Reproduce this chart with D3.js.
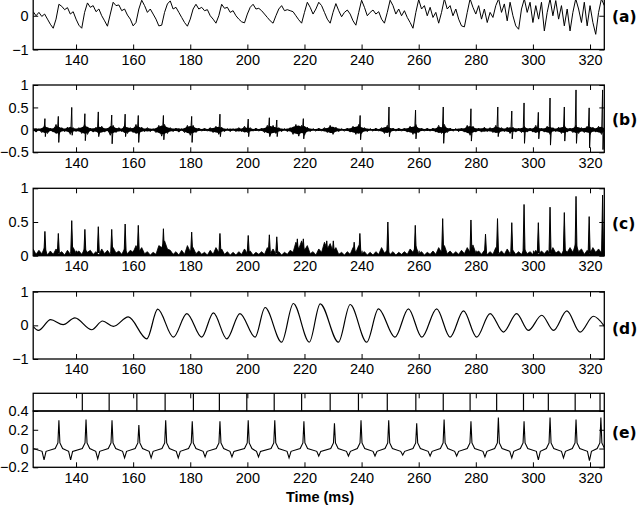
<!DOCTYPE html>
<html>
<head>
<meta charset="utf-8">
<script src="https://cdn.jsdelivr.net/npm/d3@7"></script>
<style>
  html, body { margin: 0; padding: 0; background: #fff; }
  svg { display: block; }
  .tick text { font-family: "Liberation Sans", Arial, sans-serif; font-size: 14.5px; fill: #000; }
</style>
</head>
<body>
<svg id="chart" width="640" height="506"></svg>
<script>
// ---------------- DATA ----------------
const timeDomain = [125, 325];
const xTickValues = [140, 160, 180, 200, 220, 240, 260, 280, 300, 320];

// (a) raw signal, one value per ms from 125 to 325
const aStart = 125;
const aValues = [
  0.12, 0.0, 0.1, -0.02, 0.05, -0.1, -0.25, -0.37, -0.1, 0.34,
  0.28, 0.18, 0.24, 0.05, 0.12, -0.1, -0.28, -0.37, 0.1, 0.38,
  0.25, 0.3, 0.12, 0.2, 0.0, -0.15, -0.31, 0.05, 0.4, 0.3,
  0.32, 0.15, 0.2, 0.02, -0.1, -0.3, -0.2, 0.2, 0.46, 0.3,
  0.1, 0.2, 0.05, -0.1, -0.3, -0.28, 0.1, 0.35, 0.44, 0.2,
  0.25, 0.1, -0.05, -0.2, -0.31, -0.1, 0.2, 0.34, 0.2, 0.25,
  0.15, 0.18, 0.0, -0.1, -0.22, 0.0, 0.34, 0.22, 0.25, 0.1,
  0.15, 0.0, -0.1, -0.18, -0.21, 0.05, 0.25, 0.34, 0.2, 0.22,
  0.15, 0.05, -0.05, -0.15, -0.22, 0.0, 0.2, 0.3, 0.15, 0.18,
  0.15, 0.12, 0.0, -0.12, -0.22, 0.1, 0.4, 0.25, 0.05, 0.2,
  0.4, 0.3, 0.1, -0.1, -0.22, 0.1, 0.36, 0.15, -0.03, 0.1,
  0.17, 0.05, -0.15, -0.28, 0.1, 0.46, 0.25, 0.0, 0.1, 0.17,
  0.05, 0.12, -0.1, -0.22, 0.1, 0.46, 0.3, 0.05, 0.2, 0.0,
  0.15, -0.05, -0.2, -0.37, 0.1, 0.48, 0.2, 0.3, 0.0, 0.25,
  -0.05, 0.1, -0.22, 0.1, 0.5, 0.2, 0.3, 0.0, 0.2, -0.1,
  -0.3, -0.33, 0.1, 0.5, 0.25, 0.05, 0.3, -0.1, 0.2, -0.2,
  0.1, -0.05, 0.3, 0.5, 0.1, 0.35, -0.15, 0.4, 0.0, -0.3,
  -0.4, 0.2, 0.5, 0.1, 0.4, -0.2, 0.3, -0.1, 0.4, -0.45,
  0.1, 0.5, 0.0, 0.45, -0.1, 0.3, -0.3, 0.2, -0.45, 0.1,
  0.5, 0.2, -0.2, 0.4, -0.3, 0.3, -0.2, -0.55, 0.1, 0.5, 0.3
];

// (b) background noise, one value per ms from 125 to 325, plus spikes
const bStart = 125;
const bNoise = [
  0.04, -0.05, 0.03, -0.06, 0.1, -0.08, 0.04, -0.05, 0.12, -0.1,
  0.05, -0.04, 0.06, -0.1, 0.05, -0.04, 0.05, -0.08, 0.12, -0.1,
  0.04, -0.05, 0.06, -0.1, 0.08, -0.05, 0.04, -0.12, 0.1, -0.06,
  0.05, -0.04, 0.1, -0.08, 0.05, -0.06, 0.12, -0.1, 0.06, -0.04,
  0.05, -0.04, 0.03, -0.06, 0.1, -0.14, 0.12, -0.08, 0.05, -0.04,
  0.04, -0.05, 0.03, -0.06, 0.1, -0.12, 0.1, -0.06, 0.04, -0.03,
  0.04, -0.03, 0.05, -0.06, 0.08, -0.1, 0.06, -0.04, 0.03, -0.04,
  0.03, -0.04, 0.05, -0.04, 0.08, -0.06, 0.05, -0.03, 0.04, -0.03,
  0.04, -0.06, 0.1, -0.12, 0.1, -0.08, 0.05, -0.04, 0.03, -0.04,
  0.05, -0.1, 0.12, -0.14, 0.1, -0.12, 0.06, -0.04, 0.03, -0.03,
  0.04, -0.03, 0.05, -0.06, 0.1, -0.1, 0.06, -0.04, 0.03, -0.03,
  0.04, -0.05, 0.08, -0.1, 0.12, -0.08, 0.05, -0.04, 0.03, -0.03,
  0.04, -0.03, 0.05, -0.08, 0.1, -0.06, 0.04, -0.03, 0.04, -0.03,
  0.04, -0.05, 0.08, -0.1, 0.12, -0.06, 0.04, -0.03, 0.04, -0.03,
  0.04, -0.05, 0.1, -0.08, 0.12, -0.06, 0.04, -0.03, 0.03, -0.04,
  0.04, -0.05, 0.1, -0.12, 0.08, -0.05, 0.04, -0.05, 0.06, -0.04,
  0.05, -0.06, 0.1, -0.08, 0.05, -0.04, 0.06, -0.08, 0.06, -0.05,
  0.04, -0.06, 0.08, -0.05, 0.04, -0.05, 0.1, -0.06, 0.04, -0.05,
  0.08, -0.1, 0.05, -0.04, 0.06, -0.08, 0.1, -0.05, 0.04, -0.06,
  0.1, -0.08, 0.05, -0.06, 0.08, -0.1, 0.06, -0.05, 0.08, -0.1, 0.05
];
const bSpikeT  = [129.1, 133.8, 138.5, 143.1, 147.8, 152.5, 157.2, 161.8, 170.6, 180.5, 190.4, 200.3, 207.7, 210.3, 219.6,
                  239.5, 249.6, 258.9, 268.6, 278.3, 287.7, 292.6, 296.9, 301.9, 306.0, 311.0, 315.1, 319.7, 324.4];
const bSpikeHi = [0.25, 0.30, 0.50, 0.36, 0.40, 0.33, 0.35, 0.32, 0.32, 0.30, 0.35, 0.24, 0.27, 0.22, 0.25,
                  0.32, 0.51, 0.44, 0.51, 0.47, 0.51, 0.42, 0.60, 0.39, 0.71, 0.51, 0.89, 0.49, 0.89];
const bSpikeLo = [-0.15, -0.28, -0.12, -0.24, -0.15, -0.31, -0.15, -0.28, -0.22, -0.28, -0.15, -0.15, -0.15, -0.15, -0.2,
                  -0.22, -0.15, -0.2, -0.3, -0.25, -0.15, -0.2, -0.3, -0.2, -0.34, -0.25, -0.3, -0.4, -0.44];

// (c) rectified background, one value per ms from 125 to 325, plus spikes
const cStart = 125;
const cNoise = [
  0.1, 0.02, 0.08, 0.03, 0.12, 0.01, 0.07, 0.02, 0.1, 0.03,
  0.06, 0.01, 0.08, 0.02, 0.12, 0.04, 0.07, 0.02, 0.1, 0.05,
  0.08, 0.02, 0.06, 0.01, 0.1, 0.03, 0.08, 0.02, 0.12, 0.04,
  0.07, 0.02, 0.1, 0.03, 0.08, 0.05, 0.15, 0.06, 0.12, 0.03,
  0.06, 0.01, 0.05, 0.02, 0.15, 0.12, 0.22, 0.1, 0.08, 0.02,
  0.06, 0.01, 0.08, 0.02, 0.15, 0.06, 0.12, 0.03, 0.07, 0.02,
  0.05, 0.01, 0.08, 0.02, 0.12, 0.05, 0.1, 0.02, 0.06, 0.01,
  0.05, 0.01, 0.06, 0.02, 0.1, 0.03, 0.07, 0.01, 0.05, 0.02,
  0.06, 0.02, 0.12, 0.03, 0.1, 0.02, 0.06, 0.01, 0.05, 0.02,
  0.08, 0.05, 0.2, 0.1, 0.22, 0.08, 0.15, 0.03, 0.06, 0.01,
  0.1, 0.05, 0.2, 0.1, 0.18, 0.06, 0.12, 0.02, 0.05, 0.01,
  0.06, 0.02, 0.12, 0.05, 0.15, 0.03, 0.06, 0.01, 0.05, 0.01,
  0.06, 0.02, 0.12, 0.04, 0.08, 0.02, 0.06, 0.01, 0.05, 0.02,
  0.06, 0.02, 0.1, 0.05, 0.14, 0.03, 0.06, 0.01, 0.05, 0.02,
  0.07, 0.02, 0.12, 0.05, 0.15, 0.03, 0.07, 0.02, 0.06, 0.02,
  0.08, 0.03, 0.12, 0.05, 0.16, 0.04, 0.07, 0.02, 0.08, 0.02,
  0.06, 0.02, 0.12, 0.03, 0.07, 0.02, 0.1, 0.03, 0.08, 0.02,
  0.06, 0.02, 0.1, 0.03, 0.06, 0.02, 0.08, 0.02, 0.07, 0.03,
  0.08, 0.03, 0.12, 0.04, 0.07, 0.02, 0.1, 0.05, 0.12, 0.05,
  0.18, 0.06, 0.1, 0.02, 0.08, 0.03, 0.12, 0.05, 0.1, 0.04, 0.06
];
const cSpikeT  = [129.1, 133.8, 138.5, 143.1, 147.8, 152.5, 157.2, 161.8, 170.6, 180.5, 190.4, 200.3, 207.7, 210.3, 217.5, 219.6,
                  227.8, 230.1, 237.4, 239.4, 249.2, 258.8, 268.4, 278.3, 283.4, 287.6, 292.6, 296.9, 301.9, 306.0, 311.0, 315.1, 319.7, 324.4];
const cSpikeHi = [0.36, 0.33, 0.52, 0.39, 0.43, 0.39, 0.47, 0.45, 0.40, 0.35, 0.33, 0.30, 0.31, 0.28, 0.25, 0.25,
                  0.22, 0.22, 0.20, 0.33, 0.50, 0.45, 0.55, 0.53, 0.32, 0.55, 0.49, 0.76, 0.49, 0.72, 0.64, 0.88, 0.58, 0.90];

// (d) filtered oscillation: successive extrema (time, value)
const dTimes  = [125, 126.8, 131.1, 135.5, 139.6, 145.5, 149.3, 153.1, 158.3, 164.8, 168.6, 174.1, 178.8, 184.0, 188.1,
                 192.8, 197.4, 202.7, 206.2, 212.0, 216.1, 221.7, 225.5, 231.9, 236.0, 241.8, 245.9, 251.7, 256.4,
                 261.1, 266.3, 271.0, 275.7, 280.3, 285.0, 289.7, 294.3, 298.4, 303.1, 307.2, 311.9, 316.5, 321.2, 325];
const dValues = [-0.04, -0.15, 0.17, 0.02, 0.22, -0.13, 0.13, -0.03, 0.25, -0.4, 0.48, -0.35, 0.35, -0.35, 0.37,
                 -0.4, 0.35, -0.35, 0.53, -0.5, 0.65, -0.5, 0.64, -0.5, 0.62, -0.5, 0.49, -0.35, 0.49,
                 -0.35, 0.49, -0.35, 0.43, -0.35, 0.35, -0.2, 0.35, -0.15, 0.3, -0.15, 0.43, -0.2, 0.27, -0.02];

// (e) membrane-like trace: spike peaks and inter-spike notches, and raster of spike times
const eSpikeT = [134.0, 143.5, 152.6, 162.0, 171.4, 180.7, 190.4, 200.3, 209.6, 219.8, 230.5,
                 239.8, 249.5, 259.3, 268.9, 278.3, 287.9, 296.9, 306.0, 315.1, 323.8];
const eSpikeV = [0.30, 0.31, 0.30, 0.25, 0.30, 0.29, 0.29, 0.30, 0.30, 0.29, 0.27,
                 0.30, 0.30, 0.27, 0.31, 0.29, 0.33, 0.29, 0.33, 0.31, 0.33];
const eNotchT = [128.8, 138.1, 147.6, 157.0, 166.3, 175.8, 185.2, 194.6, 203.9, 214.6, 225.0,
                 235.4, 244.7, 254.4, 264.0, 273.3, 283.2, 292.6, 301.9, 310.7, 319.8];
const eNotchV = [-0.12, -0.12, -0.11, -0.1, -0.1, -0.1, -0.09, -0.09, -0.09, -0.1, -0.08,
                 -0.08, -0.08, -0.07, -0.08, -0.08, -0.09, -0.1, -0.12, -0.1, -0.13];
const rasterT = [142.2, 151.6, 161.3, 171.2, 181.1, 190.2, 199.8, 209.4, 219.0, 229.0,
                 238.9, 249.0, 259.0, 268.6, 278.0, 287.3, 296.7, 305.4, 314.8, 323.5];

const panelLabels = ["(a)", "(b)", "(c)", "(d)", "(e)"];
const xAxisTitle = "Time (ms)";

// ---------------- LAYOUT ----------------
const svg = d3.select("#chart");
const x = d3.scaleLinear().domain(timeDomain).range([33.2, 604.3]);
const fmt = d3.format("~g");

const panels = [
  { top: -18,   bottom: 49.5,  domain: [-1, 1],     ticks: [-1, 0],               labelY: 16 },
  { top: 85,    bottom: 152.3, domain: [-0.5, 1],   ticks: [-0.5, 0, 0.5, 1],     labelY: 119 },
  { top: 188.3, bottom: 255.7, domain: [0, 1],      ticks: [0, 0.5, 1],           labelY: 223 },
  { top: 291.7, bottom: 359,   domain: [-1, 1],     ticks: [-1, 0, 1],            labelY: 328 },
  { top: 411,   bottom: 467.3, domain: [-0.2, 0.4], ticks: [-0.2, 0, 0.2, 0.4],   labelY: 432 }
];
const rasterTop = 393.3;
const L = x.range()[0], R = x.range()[1];

panels.forEach((p, i) => {
  p.y = d3.scaleLinear().domain(p.domain).range([p.bottom, p.top]);
  const g = svg.append("g");
  p.g = g;
  const cid = "clip" + i;
  svg.append("clipPath").attr("id", cid).append("rect")
    .attr("x", L).attr("y", p.top).attr("width", R - L).attr("height", p.bottom - p.top);
  p.plot = g.append("g").attr("clip-path", `url(#${cid})`);

  g.append("g").attr("transform", `translate(0,${p.bottom})`)
    .call(d3.axisBottom(x).tickValues(xTickValues).tickSizeInner(-5).tickSizeOuter(0).tickPadding(5).tickFormat(fmt))
    .call(s => s.select(".domain").remove());
  g.append("g").attr("transform", `translate(0,${i === 4 ? rasterTop : p.top})`)
    .call(d3.axisTop(x).tickValues(xTickValues).tickSizeInner(-5).tickSizeOuter(0).tickFormat(""))
    .call(s => s.select(".domain").remove());
  g.append("g").attr("transform", `translate(${L},0)`)
    .call(d3.axisLeft(p.y).tickValues(p.ticks).tickSizeInner(-5).tickSizeOuter(0).tickPadding(4.5).tickFormat(fmt))
    .call(s => s.select(".domain").remove());
  g.append("g").attr("transform", `translate(${R},0)`)
    .call(d3.axisRight(p.y).tickValues(p.ticks).tickSizeInner(-5).tickSizeOuter(0).tickFormat(""))
    .call(s => s.select(".domain").remove());

  g.selectAll(".tick line").attr("stroke", "#000").attr("stroke-width", 1);

  svg.append("text").attr("x", 612).attr("y", p.labelY).attr("dy", "0.36em")
    .attr("font-family", "DejaVu Sans, sans-serif").attr("font-weight", "bold").attr("font-size", 15.5)
    .text(panelLabels[i]);
});

const line = d3.line().x(d => x(d[0])).y(d => d[1]);

// (a)
{
  const p = panels[0];
  const pts = aValues.map((v, k) => [aStart + k, p.y(v)]);
  p.plot.append("path").attr("d", line(pts)).attr("fill", "none").attr("stroke", "#000").attr("stroke-width", 1);
}

// (b)
{
  const p = panels[1];
  const band = d3.area().x((d, k) => x(bStart + k)).y0(d => p.y(-Math.abs(d) * 0.7)).y1(d => p.y(Math.abs(d) * 0.7));
  p.plot.append("path").attr("d", band(bNoise)).attr("fill", "#000").attr("stroke", "none");
  const pts = bNoise.map((v, k) => [bStart + k, p.y(v)]);
  p.plot.append("path").attr("d", line(pts)).attr("fill", "none").attr("stroke", "#000").attr("stroke-width", 1);
  bSpikeT.forEach((t, k) => {
    const sp = [[t - 0.3, p.y(0)], [t, p.y(bSpikeHi[k])], [t + 0.15, p.y(bSpikeLo[k])], [t + 0.45, p.y(0)]];
    p.plot.append("path").attr("d", line(sp)).attr("fill", "none").attr("stroke", "#000").attr("stroke-width", 1);
  });
}

// (c)
{
  const p = panels[2];
  const ground = d3.area().x((d, k) => x(cStart + k)).y0(p.y(0)).y1(d => p.y(d));
  p.plot.append("path").attr("d", ground(cNoise)).attr("fill", "#000").attr("stroke", "#000").attr("stroke-width", 0.8);
  cSpikeT.forEach((t, k) => {
    const sp = [[t - 0.35, p.y(0.04)], [t, p.y(cSpikeHi[k])], [t + 0.35, p.y(0.04)]];
    p.plot.append("path").attr("d", line(sp)).attr("fill", "#000").attr("stroke", "#000").attr("stroke-width", 1);
  });
}

// (d)
{
  const p = panels[3];
  const l = d3.line().x(d => x(d[0])).y(d => p.y(d[1])).curve(d3.curveMonotoneX);
  const pts = dTimes.map((t, k) => [t, dValues[k]]);
  p.plot.append("path").attr("d", l(pts)).attr("fill", "none").attr("stroke", "#000").attr("stroke-width", 1.2);
}

// (e)
{
  const p = panels[4];
  const pts = [[125, 0.0]];
  eSpikeT.forEach((t, k) => {
    pts.push([t - 1.3, 0.0], [t - 0.35, 0.06], [t, eSpikeV[k]], [t + 0.35, 0.06], [t + 1.3, 0.0]);
  });
  eNotchT.forEach((t, k) => {
    pts.push([t - 0.7, -0.03], [t, eNotchV[k]], [t + 0.7, -0.03]);
  });
  pts.sort((a, b) => a[0] - b[0]);
  const l = d3.line().x(d => x(d[0])).y(d => p.y(d[1]));
  p.plot.append("path").attr("d", l(pts)).attr("fill", "none").attr("stroke", "#000").attr("stroke-width", 1.1);

  svg.append("g").selectAll("line").data(rasterT).join("line")
    .attr("x1", d => x(d)).attr("x2", d => x(d)).attr("y1", rasterTop).attr("y2", p.top)
    .attr("stroke", "#000").attr("stroke-width", 1.2);
  svg.append("rect").attr("x", L).attr("y", rasterTop).attr("width", R - L).attr("height", p.top - rasterTop)
    .attr("fill", "none").attr("stroke", "#000").attr("stroke-width", 1.3);
}

panels.forEach(p => {
  svg.append("rect").attr("x", L).attr("y", p.top).attr("width", R - L).attr("height", p.bottom - p.top)
    .attr("fill", "none").attr("stroke", "#000").attr("stroke-width", 1.3);
});

svg.append("text").attr("x", 320).attr("y", 497).attr("dy", "0.36em").attr("text-anchor", "middle")
  .attr("font-family", "Liberation Sans, Arial, sans-serif").attr("font-weight", "bold").attr("font-size", 14.5)
  .text(xAxisTitle);
</script>
</body>
</html>
